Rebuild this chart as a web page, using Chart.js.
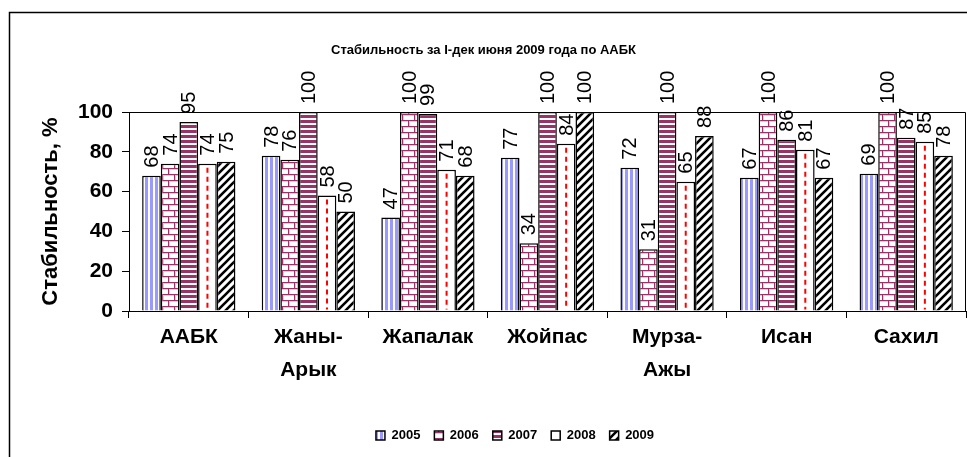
<!DOCTYPE html>
<html>
<head>
<meta charset="utf-8">
<script src="https://cdn.jsdelivr.net/npm/chart.js@4/dist/chart.umd.min.js"></script>
<style>
  body { margin: 0; background: #fff; }
  #wrap { width: 967px; height: 457px; }
</style>
</head>
<body>
<div id="wrap"><canvas id="chart" width="967" height="457"></canvas></div>
<script>
// data
const categories = ['ААБК', ['Жаны-', 'Арык'], 'Жапалак', 'Жойпас', ['Мурза-', 'Ажы'], 'Исан', 'Сахил'];
const years = ['2005', '2006', '2007', '2008', '2009'];
const v2005 = [68, 78, 47, 77, 72, 67, 69];
const v2006 = [74, 76, 100, 34, 31, 100, 100];
const v2007 = [95, 100, 99, 100, 100, 86, 87];
const v2008 = [74, 58, 71, 84, 65, 81, 85];
const v2009 = [75, 50, 68, 100, 88, 67, 78];
const yTicks = [0, 20, 40, 60, 80, 100];
const chartTitle = 'Стабильность за I-дек июня 2009 года по ААБК';

const FONT = 'Arial, "Liberation Sans", sans-serif';
const MAROON = '#993366';

function makePattern(w, h, draw) {
    const c = document.createElement('canvas');
    c.width = w;
    c.height = h;
    const g = c.getContext('2d');
    g.fillStyle = '#fff';
    g.fillRect(0, 0, w, h);
    draw(g);
    return document.getElementById('chart').getContext('2d').createPattern(c, 'repeat');
}

// vertical blue stripes
const pat2005 = makePattern(5, 1, g => {
    g.fillStyle = '#9999ff';
    g.fillRect(0, 0, 3, 1);
});
// bricks
const pat2006 = makePattern(12, 12, g => {
    g.fillStyle = '#e2c6d4';
    g.fillRect(0, 1, 12, 1);
    g.fillRect(0, 7, 12, 1);
    g.fillRect(1, 0, 1, 6);
    g.fillRect(7, 6, 1, 6);
    g.fillStyle = MAROON;
    g.fillRect(0, 0, 12, 1);
    g.fillRect(0, 6, 12, 1);
    g.fillRect(0, 0, 1, 6);
    g.fillRect(6, 6, 1, 6);
});
// horizontal stripes
const pat2007 = makePattern(1, 5, g => {
    g.fillStyle = MAROON;
    g.fillRect(0, 0, 1, 3);
});
// diagonal black stripes
const pat2009 = makePattern(8, 8, g => {
    g.strokeStyle = '#000';
    g.lineWidth = 2.6;
    g.beginPath();
    g.moveTo(-2, 10); g.lineTo(10, -2);
    g.moveTo(-6, 6); g.lineTo(6, -6);
    g.moveTo(2, 14); g.lineTo(14, 2);
    g.stroke();
});

const seriesValues = [v2005, v2006, v2007, v2008, v2009];
const fills = [pat2005, pat2006, pat2007, '#fff', pat2009];

const datasets = years.map((y, i) => ({
    label: y,
    data: seriesValues[i],
    backgroundColor: fills[i],
    borderColor: '#000',
    borderWidth: 1.5,
    categoryPercentage: 0.78,
    barPercentage: 1
}));

const framePlugin = {
    id: 'frame',
    beforeDraw(chart) {
        const ctx = chart.ctx;
        ctx.save();
        ctx.strokeStyle = '#000';
        ctx.lineWidth = 1.5;
        ctx.strokeRect(9.5, 12.5, 1000, 500);
        ctx.restore();
    },
    afterDraw(chart) {
        const a = chart.chartArea;
        const ctx = chart.ctx;
        ctx.save();
        ctx.strokeStyle = '#000';
        ctx.lineWidth = 1;
        ctx.beginPath();
        ctx.moveTo(a.left, a.top + 0.5);
        ctx.lineTo(a.right - 0.5, a.top + 0.5);
        ctx.lineTo(a.right - 0.5, a.bottom);
        ctx.stroke();
        // chart title, centred on the whole picture
        ctx.fillStyle = '#000';
        ctx.font = 'bold 13px "Liberation Sans Narrow", ' + FONT;
        ctx.textAlign = 'center';
        ctx.textBaseline = 'middle';
        ctx.fillText(chartTitle, chart.width / 2, 50);
        ctx.restore();
    }
};

const barExtras = {
    id: 'barExtras',
    afterDatasetsDraw(chart) {
        const ctx = chart.ctx;
        ctx.save();
        // red dashed line inside the 2008 bars
        const m = chart.getDatasetMeta(3);
        ctx.strokeStyle = '#ff0000';
        ctx.lineWidth = 2;
        ctx.setLineDash([5, 4]);
        m.data.forEach(el => {
            ctx.beginPath();
            ctx.moveTo(el.x, el.y + 4);
            ctx.lineTo(el.x, el.base - 1);
            ctx.stroke();
        });
        ctx.setLineDash([]);
        // value labels, rotated
        ctx.fillStyle = '#000';
        ctx.font = '20px ' + FONT;
        ctx.textAlign = 'left';
        ctx.textBaseline = 'middle';
        chart.data.datasets.forEach((ds, i) => {
            chart.getDatasetMeta(i).data.forEach((el, j) => {
                ctx.save();
                ctx.translate(el.x + 1, el.y - 8);
                ctx.rotate(-Math.PI / 2);
                ctx.fillText(String(ds.data[j]), 0, 0);
                ctx.restore();
            });
        });
        ctx.restore();
    }
};

new Chart(document.getElementById('chart'), {
    type: 'bar',
    data: { labels: categories, datasets: datasets },
    plugins: [framePlugin, barExtras],
    options: {
        responsive: false,
        animation: false,
        layout: { padding: { left: 64, right: 1, top: 112, bottom: 5 } },
        plugins: {
            tooltip: { enabled: false },
            title: { display: false },
            legend: {
                position: 'bottom',
                labels: {
                    color: '#000',
                    font: { family: FONT, size: 13, weight: 'bold' },
                    boxWidth: 9,
                    boxHeight: 9,
                    padding: 14
                }
            }
        },
        scales: {
            x: {
                grid: { display: true, drawOnChartArea: false, color: '#000', tickLength: 7, offset: true },
                border: { color: '#000', width: 1 },
                ticks: {
                    color: '#000',
                    font: { family: FONT, size: 21, weight: 'bold', lineHeight: 1.55 },
                    padding: 3,
                    maxRotation: 0,
                    autoSkip: false
                },
                afterFit(s) { s.height = 104; }
            },
            y: {
                min: 0,
                max: 100,
                afterBuildTicks(s) { s.ticks = yTicks.map(v => ({ value: v })); },
                grid: { display: true, drawOnChartArea: false, color: '#000', tickLength: 7 },
                border: { color: '#000', width: 1 },
                ticks: {
                    color: '#000',
                    font: { family: FONT, size: 21, weight: 'bold' },
                    padding: 9
                },
                title: {
                    display: true,
                    text: 'Стабильность, %',
                    color: '#000',
                    font: { family: FONT, size: 22, weight: 'bold' },
                    padding: { top: -26, bottom: 0 }
                },
                afterFit(s) { s.width = 65; }
            }
        }
    }
});
</script>
</body>
</html>
